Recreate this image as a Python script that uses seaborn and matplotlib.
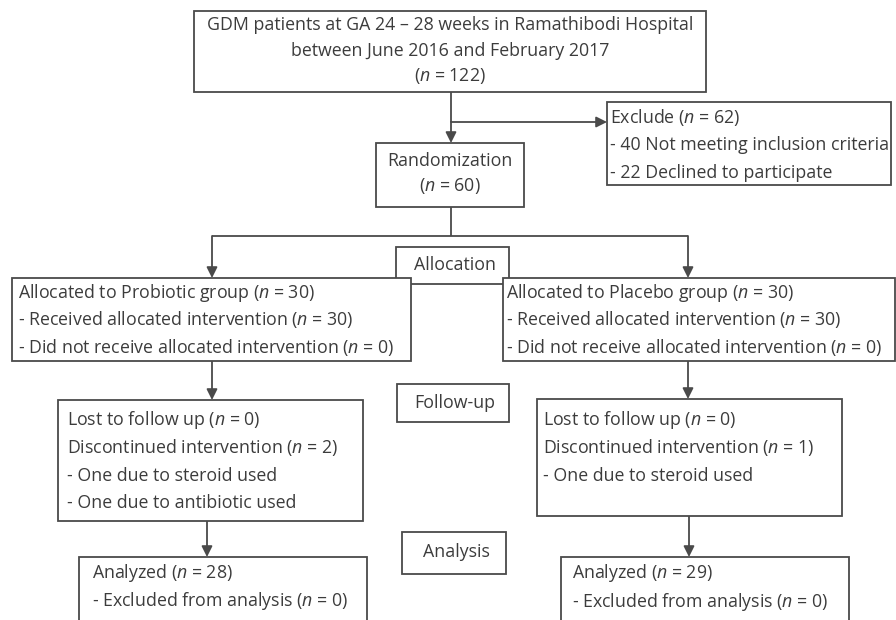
import matplotlib
matplotlib.use("Agg")
import matplotlib.pyplot as plt
import seaborn as sns
from matplotlib.patches import Rectangle

# ---- chart content (CONSORT flow) ----
top_lines = ["GDM patients at GA 24 \u2013 28 weeks in Ramathibodi Hospital",
             "between June 2016 and February 2017",
             "($n$ = 122)"]
exclude_lines = ["Exclude ($n$ = 62)",
                 "- 40 Not meeting inclusion criteria",
                 "- 22 Declined to participate"]
random_lines = ["Randomization", "($n$ = 60)"]
stage_labels = ["Allocation", "Follow-up", "Analysis"]
probiotic_alloc = ["Allocated to Probiotic group ($n$ = 30)",
                   "- Received allocated intervention ($n$ = 30)",
                   "- Did not receive allocated intervention ($n$ = 0)"]
placebo_alloc = ["Allocated to Placebo group ($n$ = 30)",
                 "- Received allocated intervention ($n$ = 30)",
                 "- Did not receive allocated intervention ($n$ = 0)"]
probiotic_follow = ["Lost to follow up ($n$ = 0)",
                    "Discontinued intervention ($n$ = 2)",
                    "- One due to steroid used",
                    "- One due to antibiotic used"]
placebo_follow = ["Lost to follow up ($n$ = 0)",
                  "Discontinued intervention ($n$ = 1)",
                  "- One due to steroid used"]
probiotic_analysis = ["Analyzed ($n$ = 28)", "- Excluded from analysis ($n$ = 0)"]
placebo_analysis = ["Analyzed ($n$ = 29)", "- Excluded from analysis ($n$ = 0)"]

sns.set_theme(style="white")
plt.rcParams['font.family'] = ['Open Sans', 'DejaVu Sans']
plt.rcParams['mathtext.fontset'] = 'custom'
plt.rcParams['mathtext.rm'] = 'Open Sans'
plt.rcParams['mathtext.it'] = 'Open Sans:italic'

LC = '#4a4a4a'
TC = '#3c3c3c'
FS = 12.8
LW = 1.3

fig = plt.figure(figsize=(8.96, 6.20), dpi=100)
ax = fig.add_axes([0, 0, 1, 1])
ax.set_xlim(0, 896)
ax.set_ylim(620, 0)
ax.axis('off')


def box(x0, y0, x1, y1, z=3):
    ax.add_patch(Rectangle((x0, y0), x1 - x0, y1 - y0, facecolor='white',
                           edgecolor=LC, lw=LW, zorder=z))


def lines_text(lines, x, y0, dy, ha='left', z=5):
    for i, t in enumerate(lines):
        ax.text(x, y0 + i * dy, t, ha=ha, va='center', fontsize=FS,
                color=TC, zorder=z)


def seg(xs, ys):
    ax.plot(xs, ys, color=LC, lw=LW, zorder=1, solid_capstyle='butt')


def arrow(x0, y0, x1, y1):
    ax.annotate('', xy=(x1, y1), xytext=(x0, y0),
                arrowprops=dict(arrowstyle='-|>', color=LC, lw=LW,
                                mutation_scale=16, shrinkA=0, shrinkB=0),
                zorder=2)


# Top box
box(194, 11, 706, 92)
lines_text(top_lines, 450, 25, 25.5, ha='center')

# connector top -> randomization, branch -> exclude
seg([451, 451], [92, 122])
arrow(451, 122, 451, 143)
arrow(451, 122, 607, 122)

# Exclude box
box(607, 102, 891, 185)
lines_text(exclude_lines, 610, 117, 28)

# Randomization box
box(376, 143, 524, 207)
lines_text(random_lines, 450, 161, 25.5, ha='center')

# Randomization -> groups
seg([451, 451], [207, 236])
seg([212, 688], [236, 236])
arrow(212, 236, 212, 278)
arrow(688, 236, 688, 278)

# Allocation label box (behind group boxes)
box(396, 247, 509, 284, z=2)
ax.text(455, 265, stage_labels[0], ha='center', va='center', fontsize=FS,
        color=TC, zorder=2.5)

# Group allocation boxes
box(12, 278, 411, 361)
lines_text(probiotic_alloc, 18, 293, 27)
box(503, 278, 895, 361)
lines_text(placebo_alloc, 506, 293, 27)

# arrows to follow-up
arrow(212, 361, 212, 400)
arrow(688, 361, 688, 399)

# Follow-up boxes
box(58, 400, 363, 521)
lines_text(probiotic_follow, 67, 420, 27.8)
box(537, 399, 842, 516)
lines_text(placebo_follow, 543, 420, 27.8)

# Follow-up label
box(397, 384, 509, 422)
ax.text(455, 403, stage_labels[1], ha='center', va='center', fontsize=FS,
        color=TC, zorder=5)

# arrows to analysis
arrow(207, 521, 207, 557)
arrow(689, 516, 689, 557)

# Analysis label
box(402, 532, 506, 574)
ax.text(456, 552, stage_labels[2], ha='center', va='center', fontsize=FS,
        color=TC, zorder=5)

# Analyzed boxes (extend past bottom edge)
box(79, 557, 367, 640)
lines_text(probiotic_analysis, 92, 573, 28)
box(561, 557, 849, 640)
lines_text(placebo_analysis, 572, 573, 29)

fig.savefig('out.png', dpi=100)
